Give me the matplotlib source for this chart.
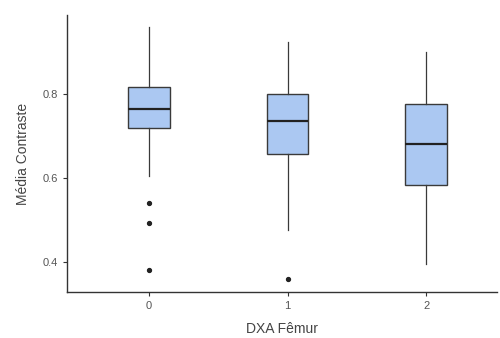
import matplotlib
matplotlib.use('Agg')
import matplotlib.pyplot as plt

# box statistics
groups   = ['0', '1', '2']
whislo   = [0.605, 0.476, 0.395]
q1       = [0.720, 0.658, 0.584]
medians  = [0.765, 0.735, 0.682]
q3       = [0.816, 0.799, 0.776]
whishi   = [0.961, 0.925, 0.900]
outliers = [[0.539, 0.493, 0.379], [0.359], []]

plt.rcParams['font.family'] = ['Liberation Sans', 'DejaVu Sans']

stats = []
for i, g in enumerate(groups):
    stats.append({'label': g, 'whislo': whislo[i], 'q1': q1[i], 'med': medians[i],
                  'q3': q3[i], 'whishi': whishi[i], 'fliers': outliers[i]})

fig = plt.figure(figsize=(5, 3.38), dpi=100)
ax = fig.add_axes([0.134, 0.136, 0.86, 0.82])

ax.bxp(stats, positions=range(len(groups)), widths=0.3, patch_artist=True,
       showcaps=False,
       boxprops=dict(facecolor='#abc8f2', edgecolor='#3a3a3a', linewidth=1.0),
       medianprops=dict(color='#222222', linewidth=1.6),
       whiskerprops=dict(color='#3a3a3a', linewidth=0.9),
       flierprops=dict(marker='o', markerfacecolor='#222222', markeredgecolor='#222222',
                       markersize=2.8))

ax.set_xlim(-0.59, 2.51)
ax.set_ylim(0.3275, 0.989)
ax.set_yticks([0.4, 0.6, 0.8])
ax.set_yticklabels(['0.4', '0.6', '0.8'])

for s in ['top', 'right']:
    ax.spines[s].set_visible(False)
for s in ['left', 'bottom']:
    ax.spines[s].set_color('#333333')
    ax.spines[s].set_linewidth(1.0)

ax.tick_params(colors='#333333', labelcolor='#555555', labelsize=8, length=3)
ax.set_xlabel('DXA Fêmur', fontsize=10, color='#444444', labelpad=8)
ax.set_ylabel('Média Contraste', fontsize=10, color='#444444', labelpad=9)

plt.savefig('out.png', dpi=100)
plt.close()
